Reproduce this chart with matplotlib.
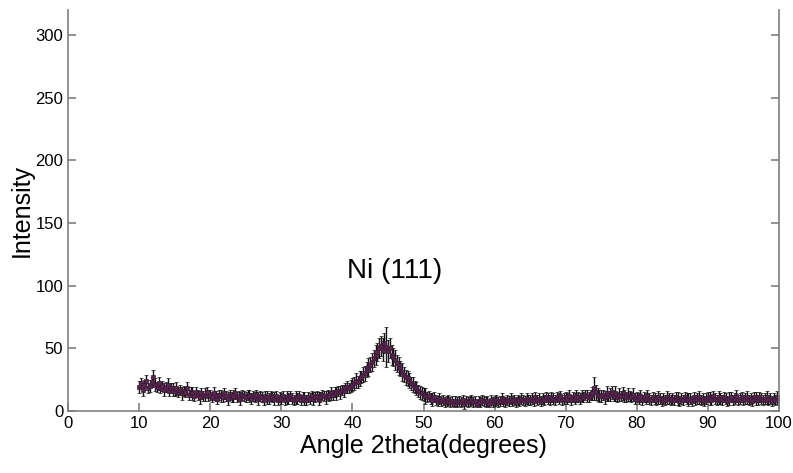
import numpy as np
import matplotlib
matplotlib.use("Agg")
import matplotlib.pyplot as plt

plt.rcParams["font.family"] = ["Liberation Sans", "DejaVu Sans"]

# 2theta from 10 to 100 deg, every 0.25 deg
angle = np.arange(10, 100.001, 0.25)

intensity = [
    19, 22, 17, 21, 24, 18, 20, 23, 27, 21, 19, 22, 18, 20, 17, 19, 21, 16, 18, 17,
    16, 18, 15, 17, 14, 16, 15, 18, 13, 15, 14, 12, 15, 13, 11, 14, 12, 13, 15, 12,
    13, 11, 14, 12, 10, 13, 12, 11, 14, 12, 10, 13, 11, 12, 14, 11, 12, 10, 13, 12,
    11, 13, 12, 10, 12, 11, 13, 10, 12, 11, 9, 12, 11, 10, 12, 11, 10, 12, 9, 11,
    10, 12, 9, 11, 10, 12, 10, 9, 11, 10, 12, 9, 11, 10, 9, 11, 10, 12, 10, 11,
    12, 10, 11, 13, 12, 11, 13, 12, 14, 13, 15, 14, 16, 15, 17, 16, 18, 19, 18, 20,
    21, 22, 24, 23, 26, 27, 29, 30, 33, 35, 37, 39, 42, 45, 47, 50, 52, 49, 54, 51,
    48, 50, 45, 43, 41, 38, 36, 34, 31, 29, 27, 26, 24, 22, 21, 19, 18, 16, 15, 14,
    13, 12, 11, 12, 10, 9, 11, 9, 8, 10, 8, 9, 7, 8, 9, 7, 8, 6, 8, 7,
    8, 7, 9, 6, 8, 7, 8, 9, 7, 8, 6, 8, 7, 9, 8, 7, 8, 6, 9, 7,
    8, 9, 7, 8, 10, 8, 7, 9, 8, 10, 8, 9, 7, 9, 8, 10, 9, 8, 10, 9,
    9, 10, 8, 11, 9, 10, 8, 10, 9, 11, 10, 9, 11, 10, 9, 11, 10, 12, 9, 10,
    11, 10, 12, 9, 11, 10, 12, 11, 10, 12, 11, 13, 12, 11, 13, 14, 18, 15, 13, 12,
    12, 13, 11, 14, 12, 13, 15, 12, 14, 11, 13, 12, 14, 12, 11, 13, 12, 11, 13, 10,
    11, 10, 12, 9, 11, 10, 12, 10, 9, 11, 10, 9, 11, 10, 8, 10, 9, 11, 10, 9,
    10, 9, 11, 10, 8, 10, 9, 11, 10, 9, 10, 8, 11, 9, 10, 11, 9, 10, 8, 10,
    11, 10, 9, 12, 10, 9, 11, 10, 9, 11, 10, 8, 10, 11, 9, 10, 12, 9, 10, 11,
    9, 10, 11, 9, 10, 8, 11, 10, 9, 11, 10, 9, 10, 11, 9, 10, 8, 10, 9, 11,
    9,
]

error = [
    5, 4, 5, 4, 5, 4, 5, 4, 6, 5, 4, 5, 4, 4, 5, 4, 5, 4, 4, 5,
    4, 5, 4, 4, 5, 4, 4, 5, 4, 4, 5, 4, 4, 4, 5, 4, 4, 5, 4, 4,
    4, 4, 5, 4, 4, 4, 5, 4, 4, 4, 5, 4, 4, 5, 4, 4, 4, 5, 4, 4,
    4, 4, 5, 4, 4, 4, 4, 5, 4, 4, 4, 4, 5, 4, 4, 4, 5, 4, 4, 4,
    4, 4, 4, 5, 4, 4, 4, 4, 5, 4, 4, 4, 4, 5, 4, 4, 4, 4, 5, 4,
    4, 5, 4, 4, 4, 5, 4, 4, 5, 4, 4, 5, 4, 5, 4, 5, 4, 5, 4, 5,
    5, 5, 6, 5, 6, 5, 6, 6, 6, 7, 6, 7, 7, 8, 7, 8, 8, 9, 8, 16,
    9, 8, 8, 7, 8, 7, 7, 6, 7, 6, 6, 6, 6, 5, 6, 5, 5, 5, 5, 5,
    5, 6, 4, 4, 4, 5, 4, 4, 4, 4, 4, 4, 4, 4, 4, 4, 4, 3, 4, 4,
    4, 4, 4, 4, 4, 4, 4, 4, 4, 4, 3, 4, 4, 4, 4, 4, 4, 3, 4, 4,
    4, 4, 4, 4, 4, 4, 4, 4, 4, 4, 4, 4, 4, 4, 4, 4, 4, 4, 4, 4,
    4, 4, 4, 4, 4, 4, 4, 4, 4, 4, 4, 4, 4, 4, 4, 4, 4, 4, 4, 4,
    4, 4, 5, 4, 4, 4, 5, 4, 4, 5, 4, 4, 5, 4, 4, 5, 9, 6, 5, 5,
    5, 4, 5, 6, 4, 5, 5, 4, 6, 4, 5, 4, 5, 5, 4, 5, 4, 4, 5, 4,
    4, 4, 5, 4, 4, 4, 5, 4, 4, 4, 4, 4, 5, 4, 4, 4, 4, 5, 4, 4,
    4, 4, 4, 5, 4, 4, 4, 4, 4, 5, 4, 4, 4, 4, 4, 5, 4, 4, 4, 4,
    4, 5, 4, 4, 4, 4, 5, 4, 4, 4, 4, 4, 5, 4, 4, 4, 5, 4, 4, 4,
    4, 4, 5, 4, 4, 4, 4, 5, 4, 4, 4, 4, 4, 5, 4, 4, 4, 4, 4, 5,
    4,
]

x_ticks = [0, 10, 20, 30, 40, 50, 60, 70, 80, 90, 100]
y_ticks = [0, 50, 100, 150, 200, 250, 300]

fig = plt.figure(figsize=(7.93, 4.73), dpi=100)
ax = fig.add_axes([0.0858, 0.131, 0.8965, 0.848])

ax.errorbar(angle, intensity, yerr=error, fmt="s", color="#5a2450",
            markersize=2.2, markeredgewidth=0.5, markeredgecolor="#3a1a35",
            ecolor="#111111", elinewidth=1.0, capsize=1.5, capthick=0.8)

ax.set_xlim(0, 100)
ax.set_ylim(0, 320)
ax.set_xticks(x_ticks)
ax.set_yticks(y_ticks)

for side in ["left", "right", "bottom"]:
    ax.spines[side].set_color("#7f7f7f")
    ax.spines[side].set_linewidth(1.2)
ax.spines["top"].set_visible(False)
ax.tick_params(direction="in", length=6, width=1.2, color="#7f7f7f",
               labelsize=12, right=True, top=False)

ax.set_xlabel("Angle 2theta(degrees)", fontsize=18, labelpad=2)
ax.set_ylabel("Intensity", fontsize=18, labelpad=1)

ax.text(46, 112, "Ni (111)", fontsize=20, ha="center", va="center")

fig.savefig("out.png", dpi=100)
